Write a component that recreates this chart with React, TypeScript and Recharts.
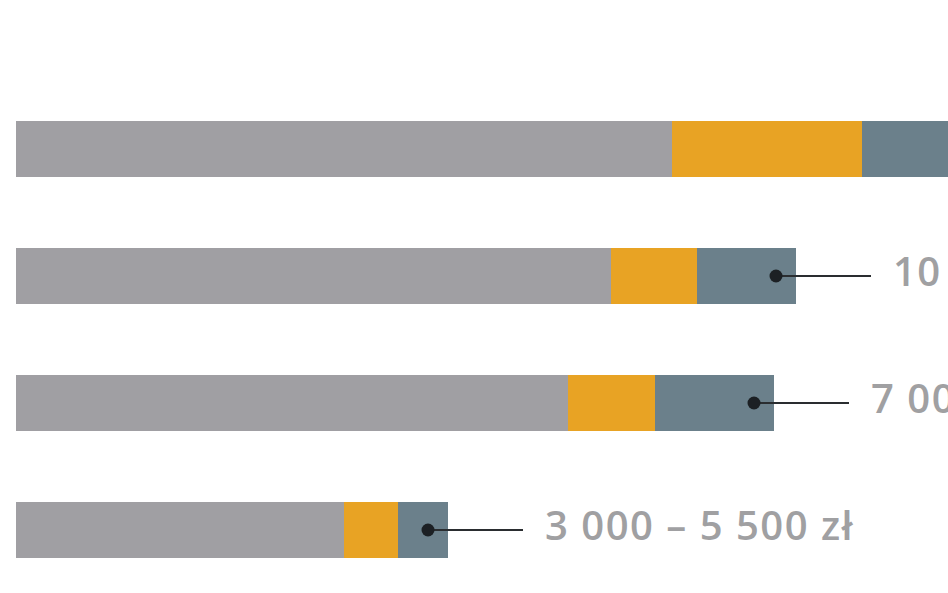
import { Bar, BarChart, LabelList, XAxis, YAxis } from "recharts";

// salary ranges, bottom of the picture = last entry
const ranges = ["15 000 zł +", "10 000 – 15 000 zł", "7 000 – 10 000 zł", "3 000 – 5 500 zł"];
// segment lengths (arbitrary units)
const baseValues = [656, 595, 552, 328];
const midValues = [190, 86, 87, 54];
const topValues = [150, 99, 119, 50];

const data = ranges.map((label, i) => ({
  label,
  base: baseValues[i],
  mid: midValues[i],
  top: topValues[i],
}));

type CalloutProps = {
  x?: number | string;
  y?: number | string;
  width?: number | string;
  height?: number | string;
  value?: string | number;
};

/** kropka w końcówce paska + linia + etykieta przedziału */
function Callout({ x, y, width, height, value }: CalloutProps) {
  const end = Number(x) + Number(width);
  const cy = Number(y) + Number(height) / 2;
  return (
    <g>
      <line x1={end - 20} y1={cy} x2={end + 75} y2={cy} stroke="#2a2d30" strokeWidth={2} />
      <circle cx={end - 20} cy={cy} r={6.5} fill="#1c2024" />
      <text
        x={end + 97}
        y={cy + 10}
        fill="#a0a0a2"
        fontSize={40}
        fontWeight={600}
        letterSpacing={1.5}
        fontFamily="'Open Sans', sans-serif"
      >
        {value}
      </text>
    </g>
  );
}

// wykres jest szerszy niż kadr — górny pasek i etykiety wychodzą poza prawą krawędź
export default function App() {
  return (
    <div
      style={{
        position: "fixed",
        left: 0,
        top: 0,
        width: 948,
        height: 593,
        overflow: "hidden",
        background: "#fff",
      }}
    >
      <BarChart
        width={1300}
        height={593}
        data={data}
        layout="vertical"
        margin={{ top: 85, right: 0, bottom: 0, left: 16 }}
        barSize={56}
      >
        <XAxis type="number" hide domain={[0, 1284]} />
        <YAxis type="category" dataKey="label" hide />
        <Bar dataKey="base" stackId="s" fill="#a09fa3" isAnimationActive={false} />
        <Bar dataKey="mid" stackId="s" fill="#e8a324" isAnimationActive={false} />
        <Bar dataKey="top" stackId="s" fill="#6b808b" isAnimationActive={false}>
          <LabelList dataKey="label" content={(p) => <Callout {...(p as CalloutProps)} />} />
        </Bar>
      </BarChart>
    </div>
  );
}
